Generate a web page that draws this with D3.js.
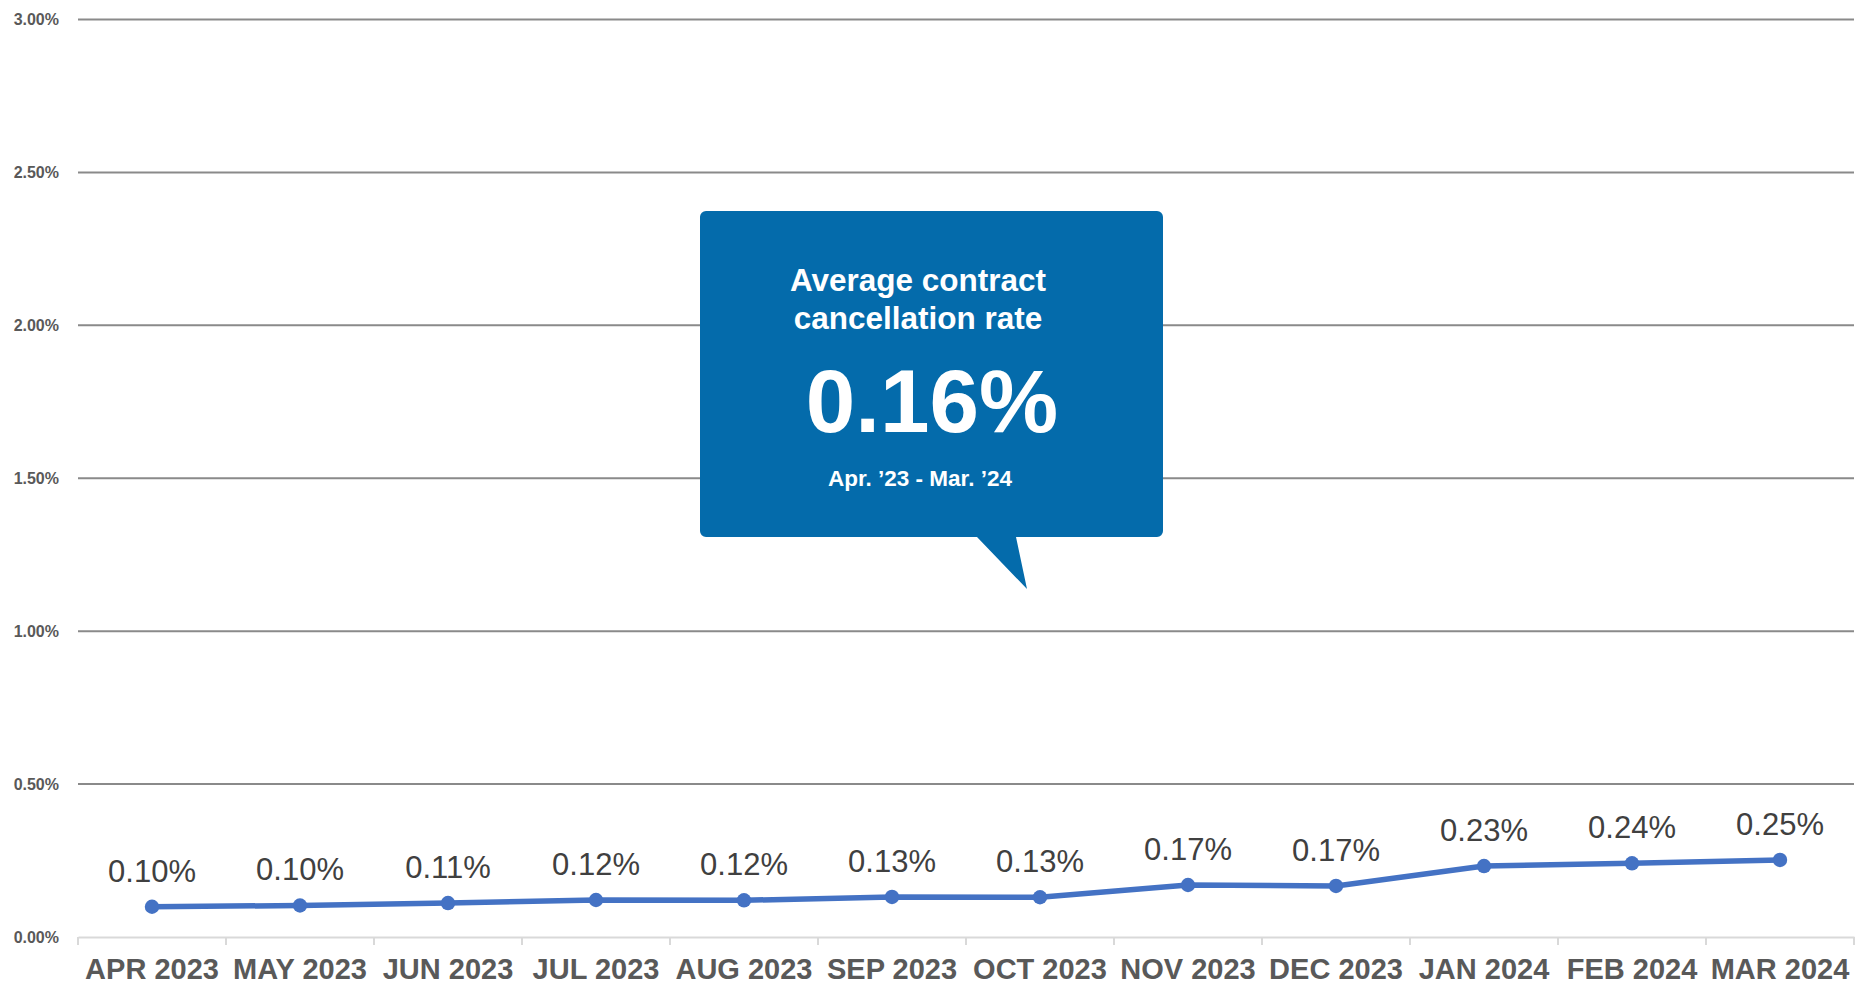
<!DOCTYPE html>
<html>
<head>
<meta charset="utf-8">
<script src="https://cdn.jsdelivr.net/npm/d3@7"></script>
<style>
  html, body { margin: 0; padding: 0; background: #fff; }
  svg { display: block; font-family: "Liberation Sans", Arial, sans-serif; }
</style>
</head>
<body>
<svg id="chart" width="1856" height="985"></svg>
<script>
// monthly cancellation rate (%)
const months = ['APR 2023', 'MAY 2023', 'JUN 2023', 'JUL 2023', 'AUG 2023', 'SEP 2023',
                'OCT 2023', 'NOV 2023', 'DEC 2023', 'JAN 2024', 'FEB 2024', 'MAR 2024'];
const rates = [0.099, 0.103, 0.111, 0.121, 0.120, 0.131, 0.130, 0.170, 0.167, 0.232, 0.241, 0.252];
const yTicks = [0, 0.5, 1.0, 1.5, 2.0, 2.5, 3.0];

const calloutTitle = ['Average contract', 'cancellation rate'];
const calloutValue = '0.16%';
const calloutPeriod = 'Apr. \u201923 - Mar. \u201924';

const svg = d3.select('#chart');
const plotLeft = 78, plotRight = 1854, plotTop = 19.5, plotBottom = 937;

const x = d3.scaleBand().domain(months).range([plotLeft, plotRight]);
const y = d3.scaleLinear().domain([0, 3]).range([plotBottom, plotTop]);

// horizontal gridlines
svg.append('g')
  .selectAll('line')
  .data(yTicks.filter(d => d > 0))
  .join('line')
  .attr('x1', plotLeft).attr('x2', plotRight)
  .attr('y1', d => y(d)).attr('y2', d => y(d))
  .attr('stroke', '#8a8a8a').attr('stroke-width', 2);

// y labels
svg.append('g')
  .selectAll('text')
  .data(yTicks)
  .join('text')
  .attr('x', 59).attr('y', d => y(d))
  .attr('dy', '0.36em')
  .attr('text-anchor', 'end')
  .attr('font-size', 16).attr('font-weight', 'bold')
  .attr('fill', '#595959')
  .text(d => d3.format('.2f')(d) + '%');

// x axis
const xAxis = svg.append('g')
  .attr('transform', `translate(0,${plotBottom})`)
  .call(d3.axisBottom(x).tickSize(0).tickFormat(''));
xAxis.select('.domain').attr('stroke', '#d9d9d9').attr('stroke-width', 2);
const bounds = months.map(m => x(m)).concat([plotRight]);
xAxis.selectAll('.sep')
  .data(bounds)
  .join('line')
  .attr('class', 'sep')
  .attr('x1', d => d).attr('x2', d => d)
  .attr('y1', 0).attr('y2', 8)
  .attr('stroke', '#d9d9d9').attr('stroke-width', 2);

svg.append('g')
  .selectAll('text')
  .data(months)
  .join('text')
  .attr('x', d => x(d) + x.bandwidth() / 2)
  .attr('y', 979)
  .attr('text-anchor', 'middle')
  .attr('font-size', 29).attr('font-weight', 'bold')
  .attr('fill', '#595959')
  .text(d => d);

// line
const cx = (d, i) => x(months[i]) + x.bandwidth() / 2;
svg.append('path')
  .datum(rates)
  .attr('d', d3.line().x(cx).y(d => y(d)))
  .attr('fill', 'none')
  .attr('stroke', '#4472c4')
  .attr('stroke-width', 5.5)
  .attr('stroke-linejoin', 'round');

svg.append('g')
  .selectAll('circle')
  .data(rates)
  .join('circle')
  .attr('cx', cx).attr('cy', d => y(d))
  .attr('r', 7.2)
  .attr('fill', '#4472c4');

svg.append('g')
  .selectAll('text')
  .data(rates)
  .join('text')
  .attr('x', cx).attr('y', d => y(d) - 25)
  .attr('text-anchor', 'middle')
  .attr('font-size', 31)
  .attr('fill', '#404040')
  .text(d => d3.format('.2f')(d) + '%');

// callout box
const bx = 700, by = 211, bw = 463, bh = 326, r = 6;
const tail = [[977, by + bh], [1016, by + bh], [1027, 589]];
const p = d3.path();
p.moveTo(bx + r, by);
p.lineTo(bx + bw - r, by);
p.arcTo(bx + bw, by, bx + bw, by + r, r);
p.lineTo(bx + bw, by + bh - r);
p.arcTo(bx + bw, by + bh, bx + bw - r, by + bh, r);
p.lineTo(tail[1][0], tail[1][1]);
p.lineTo(tail[2][0], tail[2][1]);
p.lineTo(tail[0][0], tail[0][1]);
p.lineTo(bx + r, by + bh);
p.arcTo(bx, by + bh, bx, by + bh - r, r);
p.lineTo(bx, by + r);
p.arcTo(bx, by, bx + r, by, r);
p.closePath();

const callout = svg.append('g');
callout.append('path').attr('d', p.toString()).attr('fill', '#046bab');

callout.selectAll('.title')
  .data(calloutTitle)
  .join('text')
  .attr('class', 'title')
  .attr('x', 918).attr('y', (d, i) => 291 + i * 37.5)
  .attr('text-anchor', 'middle')
  .attr('font-size', 31.5).attr('font-weight', 'bold')
  .attr('fill', '#fff')
  .text(d => d);

callout.append('text')
  .attr('x', 932).attr('y', 432)
  .attr('text-anchor', 'middle')
  .attr('font-size', 89).attr('font-weight', 'bold')
  .attr('fill', '#fff')
  .text(calloutValue);

callout.append('text')
  .attr('x', 920).attr('y', 486)
  .attr('text-anchor', 'middle')
  .attr('font-size', 22.5).attr('font-weight', 'bold')
  .attr('fill', '#fff')
  .text(calloutPeriod);
</script>
</body>
</html>
